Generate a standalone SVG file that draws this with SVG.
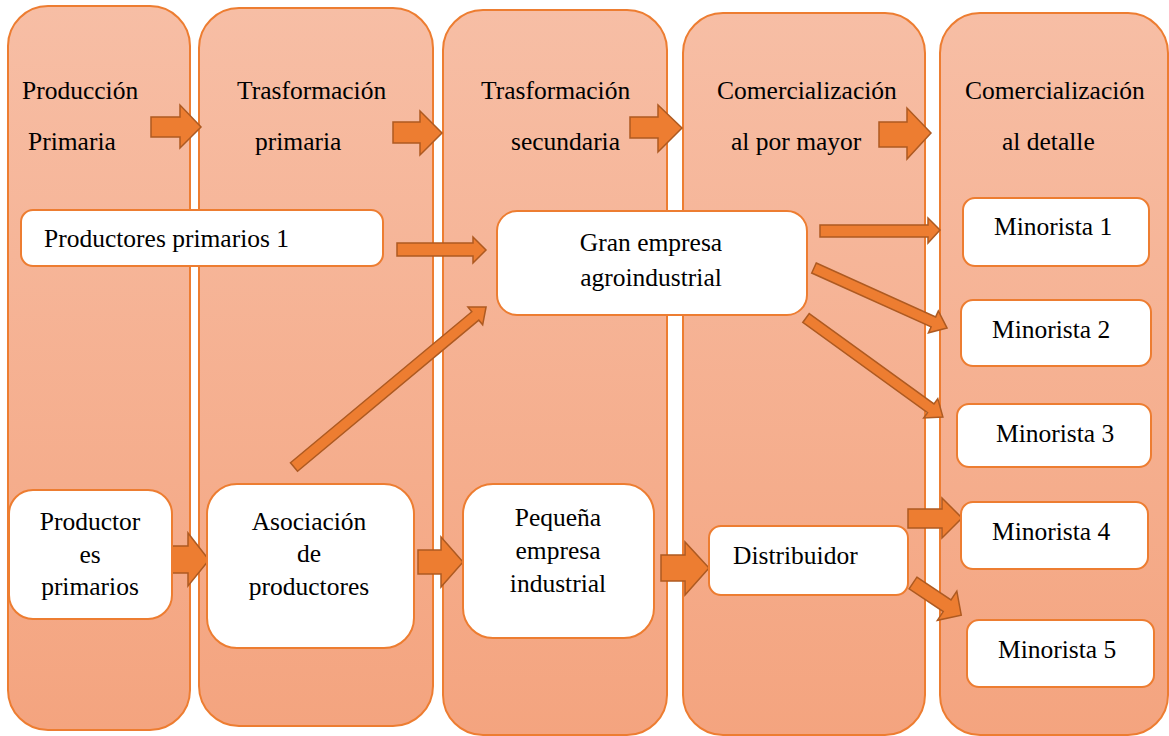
<svg xmlns="http://www.w3.org/2000/svg" width="1169" height="736" viewBox="0 0 1169 736">
<defs>
<linearGradient id="colGrad" x1="0" y1="0" x2="0" y2="1">
<stop offset="0" stop-color="#F7BEA5"/>
<stop offset="1" stop-color="#F4A47F"/>
</linearGradient>
<style>
.col{fill:url(#colGrad);stroke:#ED7D31;stroke-width:2}
.box{fill:#FFFFFF;stroke:#ED7D31;stroke-width:2}
.arr{fill:#ED7D31;stroke:#AE5A21;stroke-width:1.5;stroke-linejoin:miter}
text{font-family:'Liberation Serif','Times New Roman',serif;font-size:25.5px;fill:#000000}
.c{text-anchor:middle}
</style>
</defs>
<rect width="1169" height="736" fill="#FFFFFF"/>
<g id="columns">
<g id="col-produccion-primaria">
<rect class="col" x="8" y="6" width="182" height="724" rx="40"/>
<text x="22" y="99">Producción</text>
<text x="28" y="150">Primaria</text>
</g>
<g id="col-trasformacion-primaria">
<rect class="col" x="199" y="8" width="234" height="718" rx="40"/>
<text x="237" y="99">Trasformación</text>
<text x="255" y="150">primaria</text>
</g>
<g id="col-trasformacion-secundaria">
<rect class="col" x="443" y="10" width="224" height="725" rx="40"/>
<text x="481" y="99">Trasformación</text>
<text x="511" y="150">secundaria</text>
</g>
<g id="col-comercializacion-mayor">
<rect class="col" x="683" y="13" width="242" height="722" rx="40"/>
<text x="717" y="99">Comercialización</text>
<text x="731" y="150">al por mayor</text>
</g>
<g id="col-comercializacion-detalle">
<rect class="col" x="940" y="13" width="228" height="722" rx="40"/>
<text x="965" y="99">Comercialización</text>
<text x="1002" y="150">al detalle</text>
</g>
</g>
<g id="connectors">
<polygon class="arr" points="151,117 180,117 180,105 201,127 180,148 180,137 151,137"/>
<polygon class="arr" points="393,122 420,122 420,111 442,133 420,155 420,143 393,143"/>
<polygon class="arr" points="630,117 658,117 658,105 682,128 658,152 658,138 630,138"/>
<polygon class="arr" points="879,122 907,122 907,108 931,133 907,159 907,147 879,147"/>
<polygon class="arr" points="397,243 473,243 473,237 486,250 473,263 473,256 397,256"/>
<polygon class="arr" points="820,225 928,225 928,218 940,230 928,243 928,237 820,237"/>
<polygon class="arr" points="168,546 188,546 188,533 209,560 188,586 188,573 168,573"/>
<polygon class="arr" points="418,550 441,550 441,537 463,562 441,587 441,574 418,574"/>
<polygon class="arr" points="661,555 685,555 685,542 709,568 685,595 685,581 661,581"/>
<polygon class="arr" points="908,509 942,509 942,498 962,518 942,538 942,528 908,528"/>
<polygon class="arr" transform="translate(294,467) rotate(-39.8)" points="0,-5.5 236,-5.5 236,-11.5 250,0 236,11.5 236,5.5 0,5.5"/>
<polygon class="arr" transform="translate(814,268) rotate(24.3)" points="0,-5.5 131,-5.5 131,-12 146,0 131,12 131,5.5 0,5.5"/>
<polygon class="arr" transform="translate(806,318) rotate(35.9)" points="0,-5.5 154,-5.5 154,-12 169,0 154,12 154,5.5 0,5.5"/>
<polygon class="arr" transform="translate(913,583) rotate(33.7)" points="0,-7 41,-7 41,-17.5 58,0 41,17.5 41,7 0,7"/>
</g>
<g id="node-productores-primarios-1">
<rect class="box" x="21" y="210" width="362" height="56" rx="12"/>
<text x="44" y="247">Productores primarios  1</text>
</g>
<g id="node-gran-empresa">
<rect class="box" x="497" y="211" width="310" height="104" rx="20"/>
<text class="c" x="651" y="251">Gran  empresa</text>
<text class="c" x="651" y="286">agroindustrial</text>
</g>
<g id="node-minorista-1">
<rect class="box" x="963" y="198" width="186" height="68" rx="12"/>
<text x="994" y="235">Minorista  1</text>
</g>
<g id="node-minorista-2">
<rect class="box" x="961" y="300" width="190" height="66" rx="12"/>
<text x="992" y="338">Minorista  2</text>
</g>
<g id="node-minorista-3">
<rect class="box" x="957" y="404" width="194" height="63" rx="12"/>
<text x="996" y="442">Minorista  3</text>
</g>
<g id="node-minorista-4">
<rect class="box" x="961" y="502" width="187" height="67" rx="12"/>
<text x="992" y="540">Minorista  4</text>
</g>
<g id="node-minorista-5">
<rect class="box" x="967" y="620" width="187" height="67" rx="12"/>
<text x="998" y="658">Minorista  5</text>
</g>
<g id="node-distribuidor">
<rect class="box" x="709" y="526" width="199" height="69" rx="12"/>
<text x="733" y="564">Distribuidor</text>
</g>
<g id="node-productor-es-primarios">
<rect class="box" x="9" y="490" width="163" height="129" rx="24"/>
<text class="c" x="90" y="530">Productor</text>
<text class="c" x="90" y="563">es</text>
<text class="c" x="90" y="595">primarios</text>
</g>
<g id="node-asociacion">
<rect class="box" x="207" y="484" width="207" height="164" rx="30"/>
<text class="c" x="309" y="530">Asociación</text>
<text class="c" x="309" y="562">de</text>
<text class="c" x="309" y="595">productores</text>
</g>
<g id="node-pequena-empresa">
<rect class="box" x="463" y="484" width="191" height="154" rx="30"/>
<text class="c" x="558" y="526">Pequeña</text>
<text class="c" x="558" y="559">empresa</text>
<text class="c" x="558" y="592">industrial</text>
</g>
</svg>
